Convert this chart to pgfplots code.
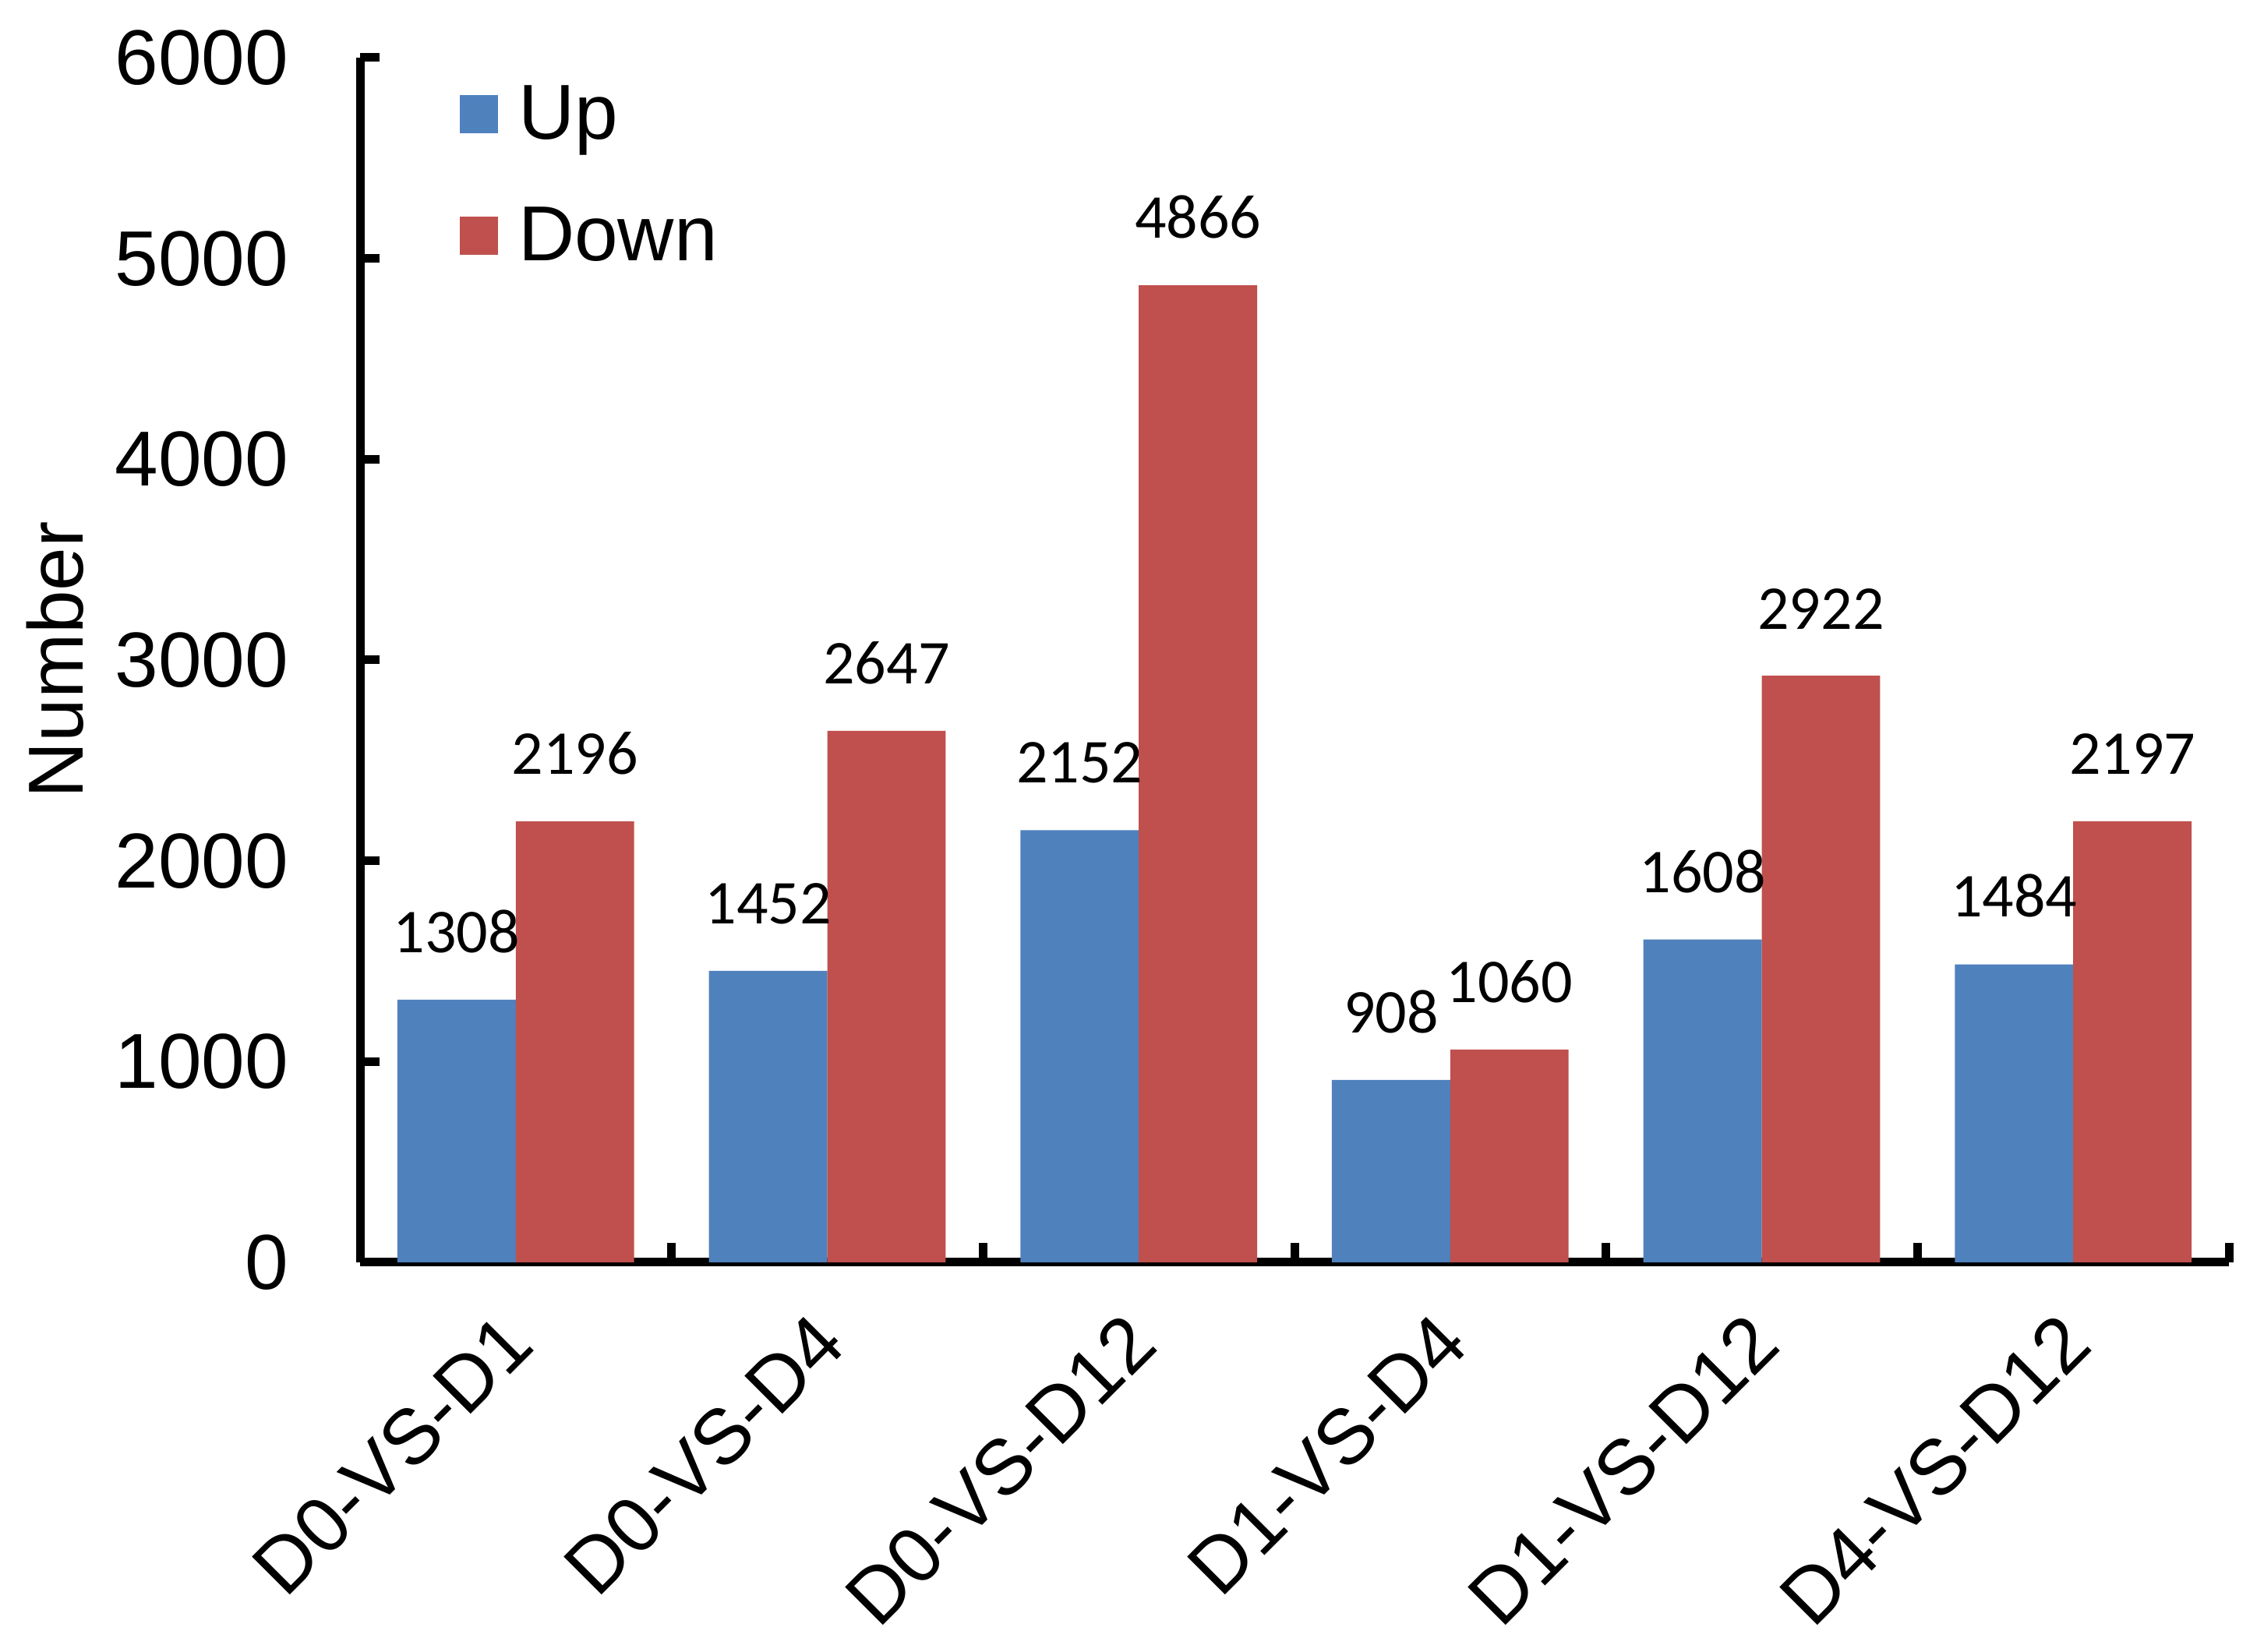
\documentclass[border=0pt]{standalone}
\usepackage{fontspec}
\setmainfont{Liberation Sans}
\newfontfamily\calibri{Carlito}
\usepackage{pgfplots}
\pgfplotsset{compat=1.18}
\definecolor{upblue}{HTML}{4F81BD}
\definecolor{downred}{HTML}{C0504D}

\begin{document}
\begin{tikzpicture}
\begin{axis}[
  name=main,
  scale only axis,
  width=239.8pt, height=154.6pt,
  clip=false,
  ybar=0pt, bar width=0.38,
  xmin=-0.5, xmax=5.5,
  ymin=0, ymax=6000,
  axis x line=bottom, axis y line=left,
  axis line style={-, line width=1.1pt},
  tick align=inside,
  major tick length=2.5pt,
  tick style={line width=1.1pt, black},
  xtick={-0.5,0.5,...,5.5},
  xticklabels={},
  extra x ticks={0,1,2,3,4,5},
  extra x tick labels={D0-VS-D1,D0-VS-D4,D0-VS-D12,D1-VS-D4,D1-VS-D12,D4-VS-D12},
  extra x tick style={major tick length=0pt,
    xticklabel style={xshift=-2.2pt, yshift=-5.8pt, rotate=45, anchor=north east, inner sep=0pt}},
  ytick={0,1000,...,6000},
  yticklabel style={anchor=east, inner sep=0pt, xshift=-9pt},
  tick label style={font=\fontsize{10}{12}\selectfont},
  /pgf/number format/assume math mode=true,
  /pgf/number format/1000 sep={},
  ylabel={Number},
  every axis y label/.style={at={(axis description cs:-0.163,0.5)}, rotate=90, anchor=center,
    font=\fontsize{10}{12}\selectfont},
  nodes near coords,
  every node near coord/.append style={anchor=south, inner sep=0pt, yshift=5.8pt,
    text=black, font=\calibri\fontsize{8}{9.6}\selectfont},
  legend style={at={(axis description cs:0,1)}, anchor=north west,
    xshift=12.6pt, yshift=-3.4pt, draw=none, fill=none, inner sep=0pt,
    row sep=7.2pt, column sep=2.6pt,
    nodes={inner sep=0pt, anchor=base west},
    font=\fontsize{10}{12}\selectfont},
  legend cell align=left,
  legend image code/.code={\fill[#1] (0pt,0.8pt) rectangle (4.9pt,5.7pt);},
]
\addplot[fill=upblue, draw=none] coordinates {
  (0,1308) (1,1452) (2,2152) (3,908) (4,1608) (5,1484)};
\addplot[fill=downred, draw=none] coordinates {
  (0,2196) (1,2647) (2,4866) (3,1060) (4,2922) (5,2197)};
\legend{Up,Down}
\end{axis}
\pgfresetboundingbox
\path ([xshift=-46.2pt, yshift=-50pt]main.south west) rectangle ([xshift=4.5pt, yshift=7.4pt]main.north east);
\end{tikzpicture}
\end{document}
